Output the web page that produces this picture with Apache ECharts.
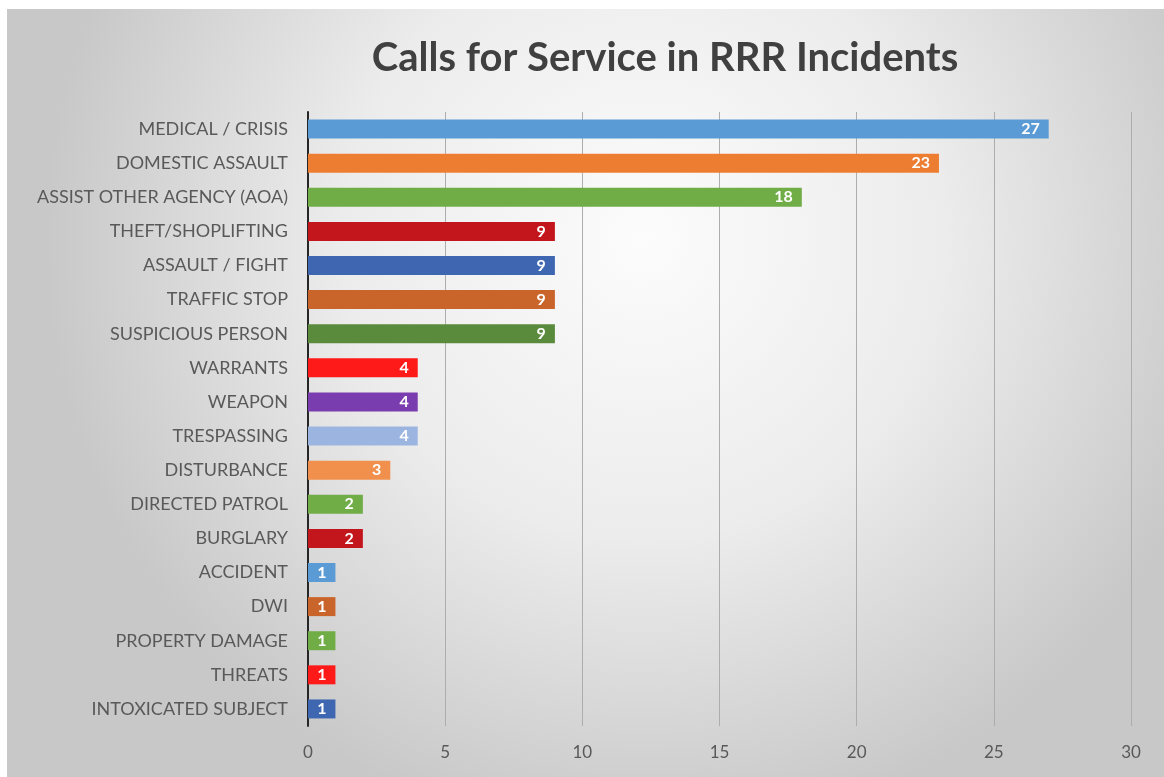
<!DOCTYPE html>
<html>
<head>
<meta charset="utf-8">
<script src="https://cdn.jsdelivr.net/npm/echarts@6/dist/echarts.min.js"></script>
<style>
html,body{margin:0;padding:0;background:#fff;}
#c{width:1164px;height:777px;}
</style>
</head>
<body>
<div id="c"></div>
<script>
const categories = ["MEDICAL / CRISIS","DOMESTIC ASSAULT","ASSIST OTHER AGENCY (AOA)","THEFT/SHOPLIFTING","ASSAULT / FIGHT","TRAFFIC STOP","SUSPICIOUS PERSON","WARRANTS","WEAPON","TRESPASSING","DISTURBANCE","DIRECTED PATROL","BURGLARY","ACCIDENT","DWI","PROPERTY DAMAGE","THREATS","INTOXICATED SUBJECT"];
const values = [27,23,18,9,9,9,9,4,4,4,3,2,2,1,1,1,1,1];
const barColors = ["#5B9BD5","#ED7D31","#70AD47","#C3161C","#3F67B1","#C9652A","#5A8A3C","#FF1A1A","#7A3DAF","#9BB5E0","#F0904C","#70AD47","#C3161C","#5B9BD5","#C9652A","#70AD47","#FF1A1A","#3F67B1"];
const xTicks = [0,5,10,15,20,25,30];

const chart = echarts.init(document.getElementById('c'), null, {renderer:'canvas'});
chart.setOption({
  backgroundColor: '#ffffff',
  animation: false,
  graphic: [{
    type: 'rect', z: -10, silent: true,
    shape: {x: 7, y: 9, width: 1157, height: 768},
    style: {fill: new echarts.graphic.RadialGradient(0.55, 0.3, 0.78, [
      {offset: 0, color: '#fcfcfc'},
      {offset: 0.5, color: '#ececec'},
      {offset: 1, color: '#c8c8c8'}
    ])}
  }],
  title: {
    text: 'Calls for Service in RRR Incidents',
    left: 660, top: 33, textAlign: 'center',
    textStyle: {fontFamily: 'Lato', fontWeight: 'bold', fontSize: 40, color: '#404040'}
  },
  grid: {left: 308, right: 33, top: 112, bottom: 51, containLabel: false},
  xAxis: {
    type: 'value', min: xTicks[0], max: xTicks[xTicks.length-1], interval: 5,
    axisLine: {show: false}, axisTick: {show: false},
    splitLine: {show: true, lineStyle: {color: '#adadad', width: 1}},
    axisLabel: {color: '#595959', fontFamily: 'Lato', fontSize: 17, margin: 18}
  },
  yAxis: {
    type: 'category', data: categories, inverse: true,
    axisLine: {show: true, lineStyle: {color: '#262626', width: 2}},
    axisTick: {show: false},
    axisLabel: {color: '#595959', fontFamily: 'Lato', fontSize: 18, margin: 20}
  },
  series: [{
    type: 'bar', data: values.map((v,i)=>({value: v, itemStyle: {color: barColors[i]}})),
    barWidth: 19,
    label: {show: true, position: 'insideRight', color: '#ffffff', fontFamily: 'Lato', fontWeight: 'bold', fontSize: 16, offset: [-4, 0]}
  }]
});
</script>
</body>
</html>
